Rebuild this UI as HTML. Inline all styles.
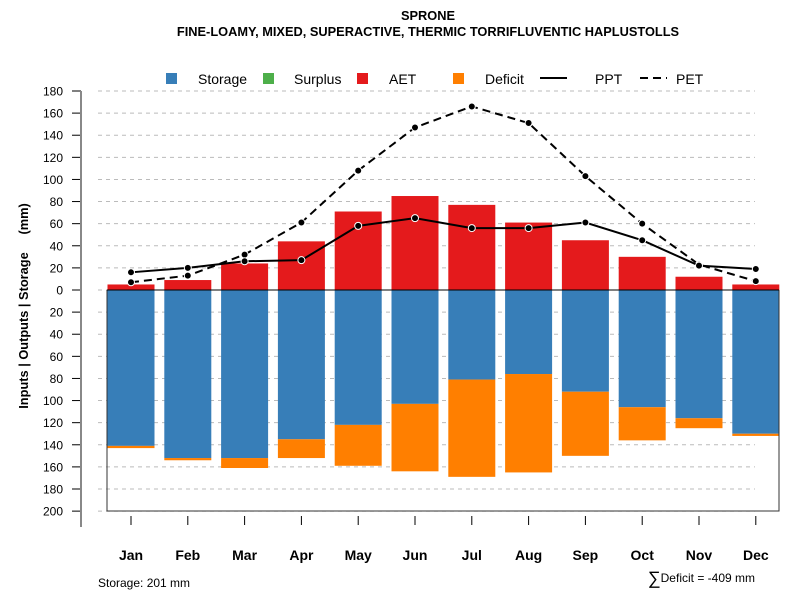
<!DOCTYPE html>
<html><head><meta charset="utf-8"><style>
body{margin:0;background:#fff}
svg{display:block;font-family:"Liberation Sans",sans-serif}
</style></head><body>
<svg id="chart" width="800" height="600">
<text x="428" y="20" text-anchor="middle" font-size="12.8" font-weight="bold">SPRONE</text>
<text x="428" y="36" text-anchor="middle" font-size="12.8" font-weight="bold">FINE-LOAMY, MIXED, SUPERACTIVE, THERMIC TORRIFLUVENTIC HAPLUSTOLLS</text>
<g>
<rect x="166" y="73" width="11" height="11" fill="#377EB8"/>
<text x="198" y="84" font-size="14">Storage</text>
<rect x="263" y="73" width="11" height="11" fill="#4DAF4A"/>
<text x="294" y="84" font-size="14">Surplus</text>
<rect x="357" y="73" width="11" height="11" fill="#E41A1C"/>
<text x="389" y="84" font-size="14">AET</text>
<rect x="453" y="73" width="11" height="11" fill="#FF7F00"/>
<text x="485" y="84" font-size="14">Deficit</text>
<line x1="540" y1="78" x2="567" y2="78" stroke="#000" stroke-width="2"/>
<text x="595" y="84" font-size="14">PPT</text>
<line x1="640" y1="78" x2="667" y2="78" stroke="#000" stroke-width="2" stroke-dasharray="8,5"/>
<text x="676" y="84" font-size="14">PET</text>
</g>
<text transform="translate(28,306) rotate(-90)" text-anchor="middle" font-size="12.8" font-weight="bold" style="white-space:pre" xml:space="preserve">Inputs | Outputs | Storage     (mm)</text>
<text x="98" y="587" font-size="12">Storage: 201 mm</text>
<text x="755" y="582" text-anchor="end" font-size="12"><tspan font-size="18" dy="2">∑</tspan><tspan dy="-2">Deficit = -409 mm</tspan></text>
<g id="plot"></g>
</svg>
<script>
const months=["Jan","Feb","Mar","Apr","May","Jun","Jul","Aug","Sep","Oct","Nov","Dec"];
const storage=[141,152,152,135,122,103,81,76,92,106,116,130];
const deficit=[2,2,9,17,37,61,88,89,58,30,9,2];
const aet=[5,9,24,44,71,85,77,61,45,30,12,5];
const ppt=[16,20,26,27,58,65,56,56,61,45,22,19];
const pet=[7,13,32,61,108,147,166,151,103,60,23,8];
const yTicks=[180,160,140,120,100,80,60,40,20,0,20,40,60,80,100,120,140,160,180,200];
const tickSigns=[1,1,1,1,1,1,1,1,1,1,-1,-1,-1,-1,-1,-1,-1,-1,-1,-1];

const NS="http://www.w3.org/2000/svg";
const g=document.getElementById('plot');
const y=v=>290-v*1.1056;
const x=i=>131+i*56.8;
const bw=47;
function mk(t,a){const e=document.createElementNS(NS,t);for(const k in a)e.setAttribute(k,a[k]);g.appendChild(e);return e;}

yTicks.forEach((t,i)=>{
  const v=t*tickSigns[i], yy=y(v);
  const gl=mk('line',{x1:98,x2:755,y1:yy,y2:yy,stroke:'#bbb','stroke-dasharray':'4,4'});
  
  
  const tk=mk('line',{x1:72,x2:81,y1:yy,y2:yy,stroke:'#000'});
  
  
  const lb=mk('text',{x:63,y:yy+4.5,'text-anchor':'end','font-size':12});
  lb.textContent=t;
  
  
});
const ax=mk('line',{x1:81,x2:81,y1:91,y2:527,stroke:'#888','stroke-width':2});



months.forEach((m,i)=>{
  const cx=x(i);
  const s=mk('rect',{x:cx-bw/2,y:y(0),width:bw,height:y(-storage[i])-y(0),fill:'#377EB8'});
  
  
  const d=mk('rect',{x:cx-bw/2,y:y(-storage[i]),width:bw,height:y(-storage[i]-deficit[i])-y(-storage[i]),fill:'#FF7F00'});
  
  
  const a=mk('rect',{x:cx-bw/2,y:y(aet[i]),width:bw,height:y(0)-y(aet[i]),fill:'#E41A1C'});
  
  
  const tk=mk('line',{x1:cx,x2:cx,y1:516,y2:525,stroke:'#000'});
  
  
  const lb=mk('text',{x:cx,y:560,'text-anchor':'middle','font-size':14,'font-weight':'bold'});
  lb.textContent=m;
  
  
});
const bx=mk('path',{d:'M107,290 V511 H779 V290',fill:'none',stroke:'#333'});


const zl=mk('line',{x1:107,x2:779,y1:y(0),y2:y(0),stroke:'#000'});



function series(vals,name,dash){
  const p=mk('polyline',{points:vals.map((v,i)=>x(i)+','+y(v)).join(' '),fill:'none',stroke:'#000','stroke-width':2,'stroke-dasharray':dash});
  
  
  vals.forEach((v,i)=>{
    const c=mk('circle',{cx:x(i),cy:y(v),r:3.5,fill:'#000',stroke:'#fff','stroke-width':1});
    
    
  });
}
series(pet,'pet','8,5');
series(ppt,'ppt','none');
</script>
</body></html>
